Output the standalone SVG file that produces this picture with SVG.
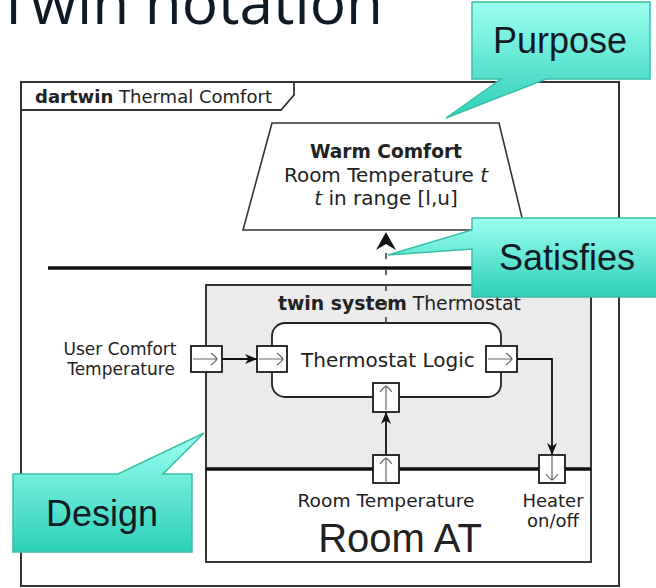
<svg xmlns="http://www.w3.org/2000/svg" width="656" height="588" viewBox="0 0 656 588">
<defs>
<style>
.lbl{font-family:"DejaVu Sans","Liberation Sans",sans-serif;fill:#222}
.b{font-weight:bold}
.box{stroke:#222;stroke-width:1.8}
.port{fill:#fff;stroke:#1a1a1a;stroke-width:1.8}
.pin{fill:none;stroke:#666;stroke-width:1.2}
.conn{fill:none;stroke:#111;stroke-width:1.8}
.call{stroke:#3ABFA8;stroke-width:1.5}
.ctext{font-family:"Liberation Sans",Arial,sans-serif;font-size:36px;fill:#131a26;text-anchor:middle}
</style>
<linearGradient id="teal" x1="0" y1="0" x2="0" y2="1">
<stop offset="0" stop-color="#9CFFF1"/>
<stop offset="1" stop-color="#2CCFB9"/>
</linearGradient>
<marker id="arr" viewBox="0 0 12 10" refX="12" refY="5" markerWidth="12" markerHeight="10" orient="auto" markerUnits="userSpaceOnUse">
<path d="M0,0 L12,5 L0,10 L3.5,5 Z" fill="#111"/>
</marker>
<marker id="arrBig" viewBox="0 0 18 20" refX="18" refY="10" markerWidth="18" markerHeight="20" orient="auto" markerUnits="userSpaceOnUse">
<path d="M0,0 L18,10 L0,20 L6,10 Z" fill="#111"/>
</marker>
</defs>

<rect width="656" height="588" fill="#fff"/>

<g id="title">
<text x="-3" y="24" font-family="'Open Sans','Noto Sans',sans-serif" font-size="61" fill="#0f1a25" textLength="386" lengthAdjust="spacingAndGlyphs">Twin notation</text>
</g>

<g id="dartwin-frame">
<rect x="21" y="82" width="598" height="504" fill="none" stroke="#333" stroke-width="2"/>
<path d="M21,110 H281 L294,95 V82" fill="none" stroke="#333" stroke-width="1.8"/>
<text class="lbl" x="35" y="103" font-size="17" textLength="237" lengthAdjust="spacingAndGlyphs"><tspan class="b">dartwin</tspan> Thermal Comfort</text>
</g>

<g id="purpose-warm-comfort">
<path d="M272,123 H499 L525,230 H243 Z" fill="#fff" stroke="#333" stroke-width="1.6"/>
<text class="lbl b" x="386" y="158" font-size="19" text-anchor="middle" textLength="152" lengthAdjust="spacingAndGlyphs">Warm Comfort</text>
<text class="lbl" x="386" y="182" font-size="20" text-anchor="middle">Room Temperature <tspan font-style="italic">t</tspan></text>
<text class="lbl" x="386" y="205" font-size="20" text-anchor="middle"><tspan font-style="italic">t</tspan> in range [l,u]</text>
</g>

<g id="separator">
<line x1="48" y1="268" x2="591" y2="268" stroke="#111" stroke-width="3.5"/>
</g>

<g id="twin-system-thermostat">
<rect class="box" x="206" y="285" width="385" height="184" fill="#ebebeb"/>
<text class="lbl" x="278" y="310" font-size="19" textLength="243" lengthAdjust="spacingAndGlyphs"><tspan class="b">twin system</tspan> Thermostat</text>
</g>

<g id="room-at">
<rect class="box" x="206" y="469" width="385" height="93" fill="#fff"/>
<line x1="206" y1="469" x2="591" y2="469" stroke="#111" stroke-width="3.5"/>
<text class="lbl" x="386" y="507" font-size="18" text-anchor="middle" textLength="177" lengthAdjust="spacingAndGlyphs">Room Temperature</text>
<text class="lbl" x="553" y="507" font-size="18" text-anchor="middle">Heater</text>
<text class="lbl" x="553" y="527" font-size="18" text-anchor="middle">on/off</text>
<text x="400" y="552" font-family="'Liberation Sans',Arial,sans-serif" font-size="40" fill="#222" text-anchor="middle">Room AT</text>
</g>

<g id="thermostat-logic">
<rect class="box" x="272" y="323" width="229" height="74" rx="13" fill="#fff"/>
<text class="lbl" x="301" y="367" font-size="20">Thermostat Logic</text>
</g>

<g id="user-comfort-label">
<text class="lbl" x="120" y="355" font-size="17" text-anchor="middle">User Comfort</text>
<text class="lbl" x="121" y="375" font-size="17" text-anchor="middle">Temperature</text>
</g>

<g id="ports">
<g id="port-user-comfort">
<rect class="port" x="191" y="346" width="31" height="26"/>
<path class="pin" d="M193,359 H217 M211,353 Q216,357 217,359 Q216,361 211,365"/>
</g>
<g id="port-logic-in">
<rect class="port" x="257" y="346" width="30" height="26"/>
<path class="pin" d="M259,359 H283 M277,353 Q282,357 283,359 Q282,361 277,365"/>
</g>
<g id="port-logic-out">
<rect class="port" x="486" y="346" width="31" height="26"/>
<path class="pin" d="M488,359 H512 M506,353 Q511,357 512,359 Q511,361 506,365"/>
</g>
<g id="port-logic-temp">
<rect class="port" x="373" y="383" width="26" height="29"/>
<path class="pin" d="M386,410 V386 M380,392 Q384,387 386,386 Q388,387 392,392"/>
</g>
<g id="port-room-temp">
<rect class="port" x="373" y="455" width="26" height="28"/>
<path class="pin" d="M386,483 V458 M380,464 Q384,459 386,458 Q388,459 392,464"/>
</g>
<g id="port-heater">
<rect class="port" x="539" y="455" width="26" height="28"/>
<path class="pin" d="M552,455 V480 M546,474 Q550,479 552,480 Q554,479 558,474"/>
</g>
</g>

<g id="connectors">
<path class="conn" d="M222,359 H257" marker-end="url(#arr)"/>
<path class="conn" d="M517,359 H552 V455" marker-end="url(#arr)"/>
<path class="conn" d="M386,455 V412" marker-end="url(#arr)"/>
<path d="M386,323 V232" fill="none" stroke="#444" stroke-width="1.6" stroke-dasharray="6 10" marker-end="url(#arrBig)"/>
</g>

<g id="callout-purpose">
<path class="call" d="M472,2 H650 V79 H546 L446,118 L501,79 H472 Z" fill="url(#teal)"/>
<text class="ctext" x="560" y="53">Purpose</text>
</g>

<g id="callout-satisfies">
<path class="call" d="M472,218 H662 V297 H472 V249 L388,255 L472,230 Z" fill="url(#teal)"/>
<text class="ctext" x="567" y="270">Satisfies</text>
</g>

<g id="callout-design">
<path class="call" d="M13,474 H118 L204,433 L163,474 H192 V552 H13 Z" fill="url(#teal)"/>
<text class="ctext" x="102" y="526">Design</text>
</g>
</svg>
